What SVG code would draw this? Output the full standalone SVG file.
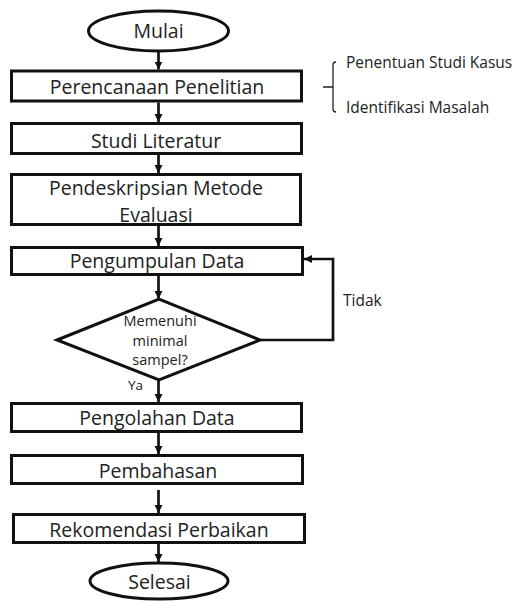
<svg xmlns="http://www.w3.org/2000/svg" width="514" height="601" viewBox="0 0 514 601">
<style>
.box{fill:#fff;stroke:#111;stroke-width:3}
.t{font-family:"Open Sans","Liberation Sans",Arial,sans-serif;font-size:19.5px;fill:#222;text-anchor:middle}
.s{font-family:"Open Sans","Liberation Sans",Arial,sans-serif;font-size:15.5px;fill:#222}
.d{font-family:"Open Sans","Liberation Sans",Arial,sans-serif;font-size:14.5px;fill:#222;text-anchor:middle}
.c{fill:none;stroke:#111;stroke-width:2.7}
.br{fill:none;stroke:#222;stroke-width:1.3}
</style>
<defs>
<marker id="ah" markerUnits="userSpaceOnUse" markerWidth="10" markerHeight="10" refX="8" refY="5" orient="auto">
<path d="M0,1 L8,5 L0,9 z" fill="#111"/>
</marker>
</defs>
<g id="connectors">
<line class="c" x1="158.5" y1="51" x2="158.5" y2="69.5" marker-end="url(#ah)"/>
<line class="c" x1="158.5" y1="102.5" x2="158.5" y2="122" marker-end="url(#ah)"/>
<line class="c" x1="158.5" y1="155" x2="158.5" y2="173" marker-end="url(#ah)"/>
<line class="c" x1="158.5" y1="226" x2="158.5" y2="246" marker-end="url(#ah)"/>
<line class="c" x1="158.5" y1="276" x2="158.5" y2="299" marker-end="url(#ah)"/>
<line class="c" x1="158.5" y1="380" x2="158.5" y2="402" marker-end="url(#ah)"/>
<line class="c" x1="158.5" y1="433" x2="158.5" y2="454" marker-end="url(#ah)"/>
<line class="c" x1="158.5" y1="490" x2="158.5" y2="513" marker-end="url(#ah)"/>
<line class="c" x1="158.5" y1="544" x2="158.5" y2="562" marker-end="url(#ah)"/>
<polyline class="c" points="260,340 333,340 333,259 304,259" marker-end="url(#ah)"/>
<text class="s" x="343" y="306">Tidak</text>
<text class="s" x="128" y="390" style="font-size:13.5px">Ya</text>
</g>
<g id="mulai">
<ellipse class="box" cx="158.5" cy="31" rx="70" ry="20"/>
<text class="t" x="158.5" y="38">Mulai</text>
</g>
<g id="perencanaan">
<rect class="box" x="11.5" y="71" width="290" height="30"/>
<text class="t" x="157" y="94">Perencanaan Penelitian</text>
</g>
<g id="bracket">
<path class="br" d="M336,62 Q333,62 333,65 L333,109 Q333,112 336,112 M323,87 L333,87"/>
<text class="s" x="346" y="68">Penentuan Studi Kasus</text>
<text class="s" x="346" y="113">Identifikasi Masalah</text>
</g>
<g id="studi">
<rect class="box" x="11.5" y="123.5" width="290" height="30"/>
<text class="t" x="156" y="148">Studi Literatur</text>
</g>
<g id="pendeskripsian">
<rect class="box" x="11.5" y="174.5" width="289" height="50"/>
<text class="t" x="156" y="195">Pendeskripsian Metode</text>
<text class="t" x="156" y="222">Evaluasi</text>
</g>
<g id="pengumpulan">
<rect class="box" x="11.5" y="247.5" width="291" height="27"/>
<text class="t" x="157" y="268">Pengumpulan Data</text>
</g>
<g id="keputusan">
<polygon class="box" points="57,340 159,299 260,340 159,380"/>
<text class="d" x="160" y="326">Memenuhi</text>
<text class="d" x="160" y="346">minimal</text>
<text class="d" x="160" y="365">sampel?</text>
</g>
<g id="pengolahan">
<rect class="box" x="11.5" y="403.5" width="290" height="28"/>
<text class="t" x="157" y="425">Pengolahan Data</text>
</g>
<g id="pembahasan">
<rect class="box" x="11.5" y="455.5" width="291" height="28"/>
<text class="t" x="158" y="478">Pembahasan</text>
</g>
<g id="rekomendasi">
<rect class="box" x="13.5" y="514.5" width="291" height="28"/>
<text class="t" x="159" y="537">Rekomendasi Perbaikan</text>
</g>
<g id="selesai">
<ellipse class="box" cx="159" cy="581" rx="69" ry="18"/>
<text class="t" x="159.5" y="589">Selesai</text>
</g>
</svg>
